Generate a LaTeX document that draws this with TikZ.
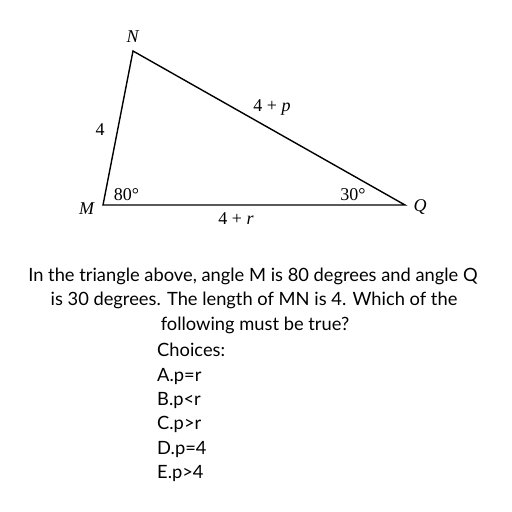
\documentclass[tikz,border=0pt]{standalone}
\usepackage{fontspec}
\setmainfont{Lato}
\newfontfamily\trifont{Liberation Serif}
\begin{document}
\begin{tikzpicture}[x=1pt,y=-1pt,
  lbl/.style={font=\trifont\fontsize{18}{20}\selectfont, inner sep=0pt, anchor=base},
  txt/.style={font=\fontsize{18.3}{22}\selectfont, inner sep=0pt, anchor=base},
  side/.style={line width=1.4pt, line join=miter}]
\useasboundingbox (0,0) rectangle (512,512);
\coordinate (N) at (133,51);
\coordinate (M) at (103,205);
\coordinate (Q) at (405,205);
\draw[side] (M) -- (N) -- (Q) -- cycle;
\node[lbl] (lN) at (133,42.7) {\textit{N}};
\node[lbl] (lM) at (87,214) {\textit{M}};
\node[lbl] (lQ) at (420,211.7) {\textit{Q}};
\node[lbl] (l4) at (100,135.7) {4};
\node[lbl] (lp) at (272,111) {4 + \textit{p}};
\node[lbl] (lr) at (236,224) {4 + \textit{r}};
\node[lbl] (a80) at (126.5,200) {80°};
\node[lbl] (a30) at (353,200.7) {30°};
\node[txt] (t1) at (253,281.7) {In the triangle above, angle M is 80 degrees and angle Q};
\node[txt] (t2) at (254,305.5) {is 30 degrees. The length of MN is 4. Which of the};
\node[txt] (t3) at (255,330) {following must be true?};
\node[txt,anchor=base west] (c0) at (157,356.7) {Choices:};
\node[txt,anchor=base west] (cA) at (157,381.5) {A.p=r};
\node[txt,anchor=base west] (cB) at (157,405.7) {B.p<r};
\node[txt,anchor=base west] (cC) at (157,429.8) {C.p>r};
\node[txt,anchor=base west] (cD) at (157,454) {D.p=4};
\node[txt,anchor=base west] (cE) at (157,478.2) {E.p>4};
\end{tikzpicture}
\end{document}
